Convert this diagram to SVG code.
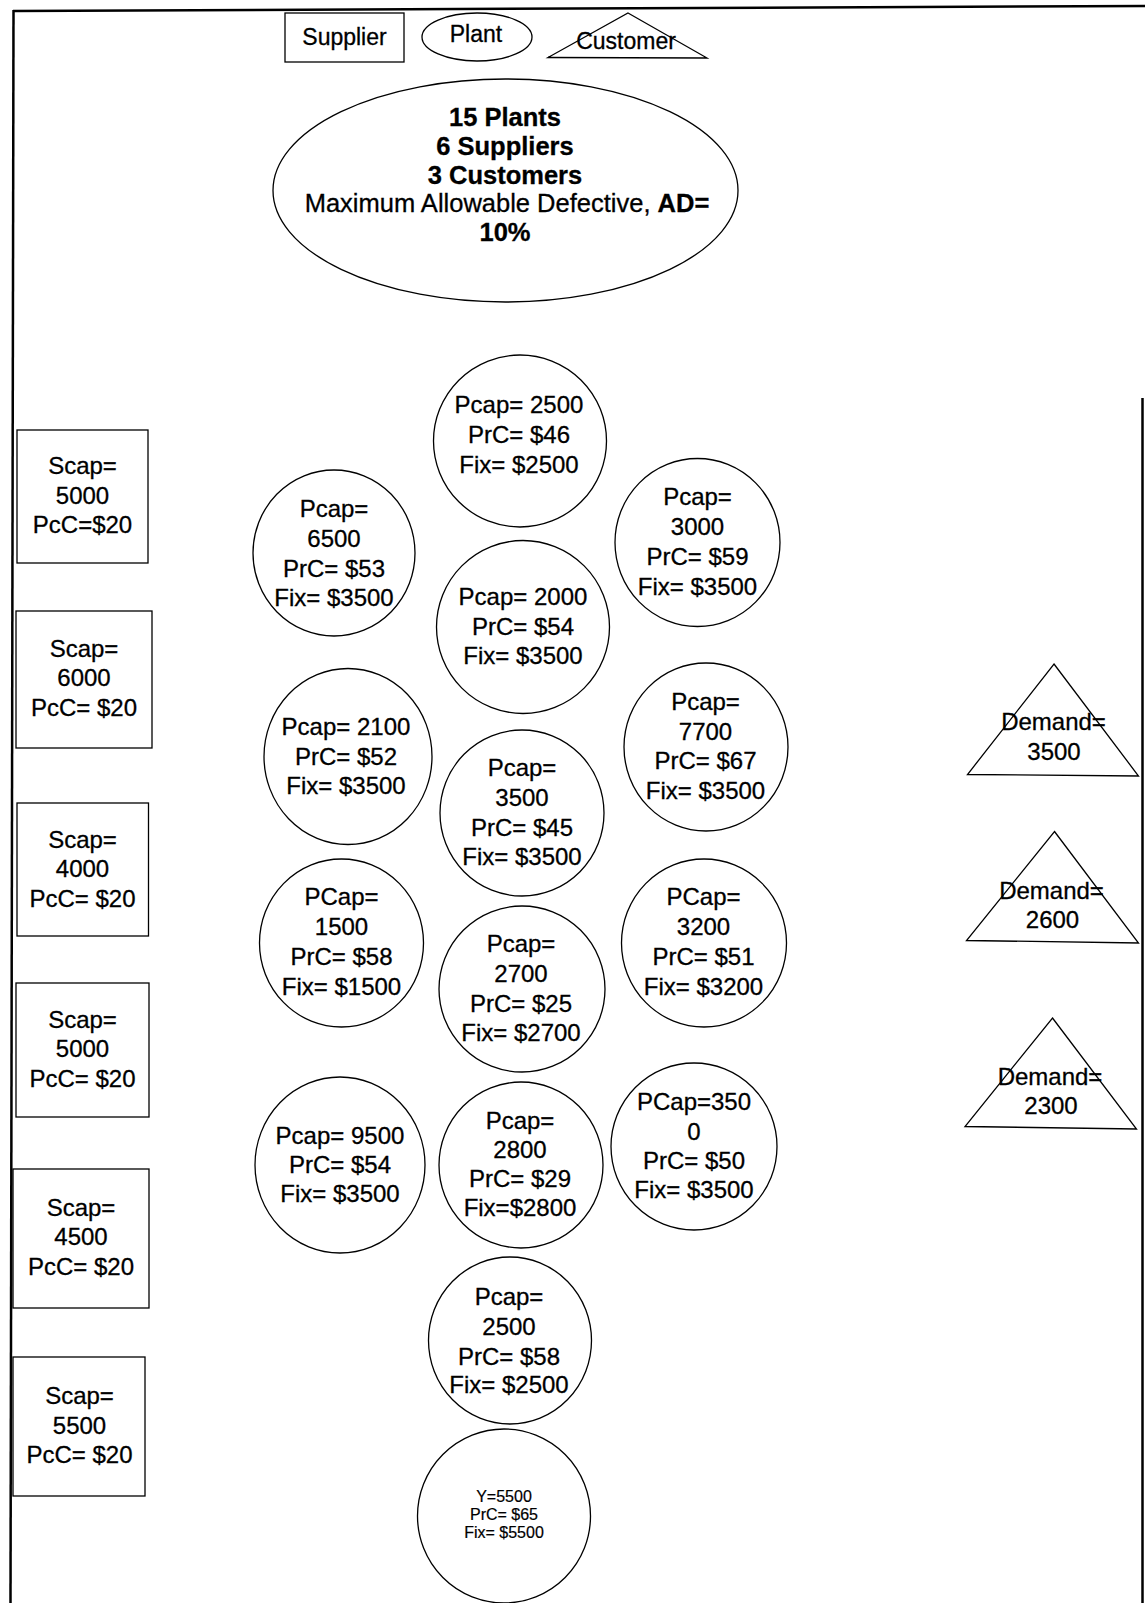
<svg xmlns="http://www.w3.org/2000/svg" width="1145" height="1603" viewBox="0 0 1145 1603">
  <style>
    .shape { fill: #fff; stroke: #000; stroke-width: 1.3; }
    .frame { fill: none; stroke: #000; stroke-width: 2.5; }
    text { font-family: "Liberation Sans", Arial, Helvetica, sans-serif; font-size: 24px; text-anchor: middle; fill: #000; stroke: #000; stroke-width: 0.3; }
    .legend { font-size: 23px; }
    .info { font-size: 25.5px; }
    .small { font-size: 16px; stroke-width: 0.2; }
    .b { font-weight: bold; }
  </style>

  <rect x="0" y="0" width="1145" height="1603" fill="#fff"/>

  <!-- page border (open on the upper right) -->
  <g id="frame">
    <path class="frame" d="M13,11 L1145,6"/>
    <path class="frame" d="M13.5,10 L10.5,1603"/>
    <path class="frame" d="M1142.5,398 L1142.5,1603"/>
  </g>

  <!-- legend -->
  <g id="legend-supplier">
    <rect class="shape" x="285" y="13" width="119" height="49"/>
    <text class="legend" x="344.5" y="45">Supplier</text>
  </g>
  <g id="legend-plant">
    <ellipse class="shape" cx="477" cy="37" rx="55" ry="24"/>
    <text class="legend" x="476" y="42">Plant</text>
  </g>
  <g id="legend-customer">
    <polygon class="shape" points="628,13 707,58 548,57.5"/>
    <text class="legend" x="626" y="49">Customer</text>
  </g>

  <!-- problem summary -->
  <g id="summary">
    <ellipse class="shape" cx="505.5" cy="190.5" rx="232.5" ry="111.5"/>
    <text class="info b" x="505" y="126">15 Plants</text>
    <text class="info b" x="505" y="155">6 Suppliers</text>
    <text class="info b" x="505" y="184">3 Customers</text>
    <text class="info" x="507" y="212">Maximum Allowable Defective, <tspan class="b">AD=</tspan></text>
    <text class="info b" x="505" y="241">10%</text>
  </g>

  <!-- suppliers -->
  <g id="supplier-1">
    <rect class="shape" x="17" y="430" width="131" height="133"/>
    <text x="82.5" y="474">Scap=</text>
    <text x="82.5" y="503.5">5000</text>
    <text x="82.5" y="533">PcC=$20</text>
  </g>
  <g id="supplier-2">
    <rect class="shape" x="16" y="611" width="136" height="137"/>
    <text x="84" y="656.5">Scap=</text>
    <text x="84" y="686">6000</text>
    <text x="84" y="715.5">PcC= $20</text>
  </g>
  <g id="supplier-3">
    <rect class="shape" x="17" y="803" width="131.5" height="133"/>
    <text x="82.5" y="848">Scap=</text>
    <text x="82.5" y="877">4000</text>
    <text x="82.5" y="906.5">PcC= $20</text>
  </g>
  <g id="supplier-4">
    <rect class="shape" x="16" y="983" width="133" height="134"/>
    <text x="82.5" y="1027.5">Scap=</text>
    <text x="82.5" y="1057">5000</text>
    <text x="82.5" y="1086.5">PcC= $20</text>
  </g>
  <g id="supplier-5">
    <rect class="shape" x="13" y="1169" width="136" height="139"/>
    <text x="81" y="1215.5">Scap=</text>
    <text x="81" y="1245">4500</text>
    <text x="81" y="1274.5">PcC= $20</text>
  </g>
  <g id="supplier-6">
    <rect class="shape" x="13" y="1357" width="132" height="139"/>
    <text x="79.5" y="1404">Scap=</text>
    <text x="79.5" y="1433.5">5500</text>
    <text x="79.5" y="1463">PcC= $20</text>
  </g>

  <!-- plants -->
  <g id="plant-1">
    <ellipse class="shape" cx="520" cy="441" rx="86.5" ry="86"/>
    <text x="519" y="413">Pcap= 2500</text>
    <text x="519" y="443">PrC= $46</text>
    <text x="519" y="473">Fix= $2500</text>
  </g>
  <g id="plant-2">
    <ellipse class="shape" cx="334" cy="553" rx="81" ry="83"/>
    <text x="334" y="516.5">Pcap=</text>
    <text x="334" y="546.5">6500</text>
    <text x="334" y="576.5">PrC= $53</text>
    <text x="334" y="606">Fix= $3500</text>
  </g>
  <g id="plant-3">
    <ellipse class="shape" cx="697.5" cy="542.5" rx="82.5" ry="84"/>
    <text x="697.5" y="505">Pcap=</text>
    <text x="697.5" y="535">3000</text>
    <text x="697.5" y="565">PrC= $59</text>
    <text x="697.5" y="595">Fix= $3500</text>
  </g>
  <g id="plant-4">
    <ellipse class="shape" cx="523" cy="627" rx="86.5" ry="86.5"/>
    <text x="523" y="605">Pcap= 2000</text>
    <text x="523" y="635">PrC= $54</text>
    <text x="523" y="664">Fix= $3500</text>
  </g>
  <g id="plant-5">
    <ellipse class="shape" cx="348" cy="756.5" rx="84" ry="88"/>
    <text x="346" y="735">Pcap= 2100</text>
    <text x="346" y="764.5">PrC= $52</text>
    <text x="346" y="794">Fix= $3500</text>
  </g>
  <g id="plant-6">
    <ellipse class="shape" cx="522" cy="813" rx="82" ry="83"/>
    <text x="522" y="775.5">Pcap=</text>
    <text x="522" y="805.5">3500</text>
    <text x="522" y="835.5">PrC= $45</text>
    <text x="522" y="864.5">Fix= $3500</text>
  </g>
  <g id="plant-7">
    <ellipse class="shape" cx="706" cy="747" rx="82" ry="84"/>
    <text x="705.5" y="710">Pcap=</text>
    <text x="705.5" y="739.5">7700</text>
    <text x="705.5" y="769">PrC= $67</text>
    <text x="705.5" y="798.5">Fix= $3500</text>
  </g>
  <g id="plant-8">
    <ellipse class="shape" cx="341.5" cy="943" rx="82" ry="84"/>
    <text x="341.5" y="905">PCap=</text>
    <text x="341.5" y="935">1500</text>
    <text x="341.5" y="965">PrC= $58</text>
    <text x="341.5" y="994.5">Fix= $1500</text>
  </g>
  <g id="plant-9">
    <ellipse class="shape" cx="522" cy="989" rx="83" ry="83"/>
    <text x="521" y="951.5">Pcap=</text>
    <text x="521" y="981.5">2700</text>
    <text x="521" y="1011.5">PrC= $25</text>
    <text x="521" y="1041">Fix= $2700</text>
  </g>
  <g id="plant-10">
    <ellipse class="shape" cx="340" cy="1165" rx="85" ry="88"/>
    <text x="340" y="1143.5">Pcap= 9500</text>
    <text x="340" y="1173">PrC= $54</text>
    <text x="340" y="1202">Fix= $3500</text>
  </g>
  <g id="plant-11">
    <ellipse class="shape" cx="521" cy="1165" rx="82" ry="83"/>
    <text x="520" y="1128.5">Pcap=</text>
    <text x="520" y="1158">2800</text>
    <text x="520" y="1187">PrC= $29</text>
    <text x="520" y="1216">Fix=$2800</text>
  </g>
  <g id="plant-12">
    <ellipse class="shape" cx="510" cy="1340.5" rx="81.5" ry="83.5"/>
    <text x="509" y="1305">Pcap=</text>
    <text x="509" y="1335">2500</text>
    <text x="509" y="1364.5">PrC= $58</text>
    <text x="509" y="1393">Fix= $2500</text>
  </g>
  <g id="plant-13">
    <ellipse class="shape" cx="504" cy="1516" rx="86.5" ry="87"/>
    <text class="small" x="504" y="1502">Y=5500</text>
    <text class="small" x="504" y="1520">PrC= $65</text>
    <text class="small" x="504" y="1538">Fix= $5500</text>
  </g>
  <g id="plant-14">
    <ellipse class="shape" cx="704" cy="943" rx="82.5" ry="84"/>
    <text x="703.5" y="905">PCap=</text>
    <text x="703.5" y="935">3200</text>
    <text x="703.5" y="965">PrC= $51</text>
    <text x="703.5" y="995">Fix= $3200</text>
  </g>
  <g id="plant-15">
    <ellipse class="shape" cx="694" cy="1146.5" rx="83" ry="83.5"/>
    <text x="694" y="1110">PCap=350</text>
    <text x="694" y="1140">0</text>
    <text x="694" y="1168.5">PrC= $50</text>
    <text x="694" y="1198">Fix= $3500</text>
  </g>

  <!-- customers -->
  <g id="customer-1">
    <polygon class="shape" points="1054,664 1138.5,776 967.5,774.5"/>
    <text x="1053.5" y="730">Demand=</text>
    <text x="1054" y="760">3500</text>
  </g>
  <g id="customer-2">
    <polygon class="shape" points="1054.5,831.5 1138.5,943 966.5,940.5"/>
    <text x="1051.5" y="898.5">Demand=</text>
    <text x="1052.5" y="928">2600</text>
  </g>
  <g id="customer-3">
    <polygon class="shape" points="1052.5,1018 1136.5,1129 965,1126.5"/>
    <text x="1050" y="1085">Demand=</text>
    <text x="1051" y="1113.5">2300</text>
  </g>

  <!-- no links are drawn between the nodes -->
  <g id="connectors"/>
</svg>
